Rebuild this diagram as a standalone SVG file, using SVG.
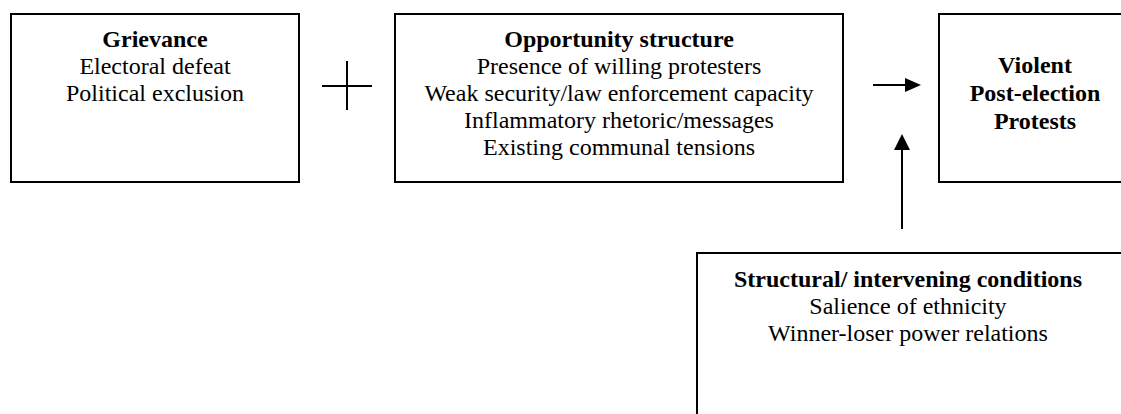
<svg xmlns="http://www.w3.org/2000/svg" width="1121" height="414" viewBox="0 0 1121 414">
<style>
.box{fill:#fff;stroke:#000;stroke-width:2}
text{font-family:"Liberation Serif","Times New Roman",serif;font-size:24px;fill:#000;text-anchor:middle}
.b{font-weight:bold}
.ln{stroke:#000;stroke-width:2;fill:none}
</style>
<defs>
<marker id="ah" markerWidth="8" markerHeight="8" refX="8" refY="4" orient="auto" markerUnits="userSpaceOnUse" viewBox="0 0 8 8">
<path d="M0,0 L8,4 L0,8 Z" fill="#000"/>
</marker>
</defs>
<rect width="1121" height="414" fill="#fff"/>
<g id="grievance">
<rect class="box" x="11" y="14" width="288" height="168"/>
<text class="b" x="155" y="47">Grievance</text>
<text x="155" y="74">Electoral defeat</text>
<text x="155" y="101">Political exclusion</text>
</g>
<g id="plus">
<line class="ln" x1="322" y1="86" x2="372" y2="86" stroke-width="1.5"/>
<line class="ln" x1="347" y1="61" x2="347" y2="110" stroke-width="1.5"/>
</g>
<g id="opportunity">
<rect class="box" x="395" y="14" width="448" height="168"/>
<text class="b" x="619" y="47">Opportunity structure</text>
<text x="619" y="74">Presence of willing protesters</text>
<text x="619" y="101">Weak security/law enforcement capacity</text>
<text x="619" y="128">Inflammatory rhetoric/messages</text>
<text x="619" y="155">Existing communal tensions</text>
</g>
<g id="outcome">
<rect class="box" x="939" y="14" width="200" height="168"/>
<text class="b" x="1035" y="73">Violent</text>
<text class="b" x="1035" y="101">Post-election</text>
<text class="b" x="1035" y="129">Protests</text>
</g>
<g id="structural">
<rect class="box" x="697" y="253" width="440" height="200"/>
<text class="b" x="908" y="287">Structural/ intervening conditions</text>
<text x="908" y="314">Salience of ethnicity</text>
<text x="908" y="341">Winner-loser power relations</text>
</g>
<g id="connectors">
<path d="M873,85 L906,85" stroke="#000" stroke-width="2"/>
<path d="M905,78 L921,85 L905,92 Z" fill="#000"/>
<path d="M902,229 L902,150" stroke="#000" stroke-width="2"/>
<path d="M894,150 L902,134 L910,150 Z" fill="#000"/>
</g>
</svg>
